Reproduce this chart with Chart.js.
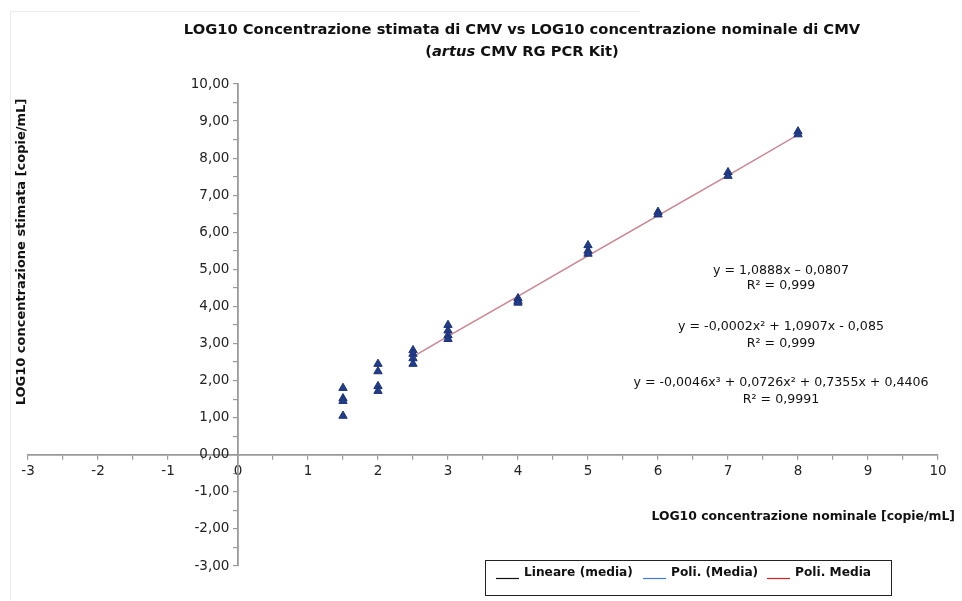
<!DOCTYPE html>
<html>
<head>
<meta charset="utf-8">
<script src="https://cdn.jsdelivr.net/npm/chart.js@4/dist/chart.umd.min.js"></script>
<style>
  html, body { margin: 0; padding: 0; background: #ffffff; }
  #wrap { position: relative; width: 962px; height: 601px; }
</style>
</head>
<body>
<div id="wrap"><canvas id="c" width="962" height="601"></canvas></div>
<script>
// ---- Data ----
const nominalX   = [1.5, 1.5, 1.5, 1.5, 2, 2, 2, 2, 2.5, 2.5, 2.5, 2.5, 3, 3, 3, 3, 4, 4, 4, 5, 5, 5, 6, 6, 7, 7, 8, 8];
const estimatedY = [1.80, 1.52, 1.45, 1.05, 2.45, 2.25, 1.85, 1.72, 2.82, 2.72, 2.60, 2.45, 3.50, 3.35, 3.22, 3.12, 4.22, 4.15, 4.10, 5.65, 5.50, 5.42, 6.55, 6.48, 7.62, 7.52, 8.72, 8.64];

const trendX     = [2.5, 3, 4, 5, 6, 7, 8];
const linearY    = [2.64, 3.19, 4.27, 5.36, 6.45, 7.54, 8.63];
const poly2Y     = [2.64, 3.19, 4.27, 5.37, 6.46, 7.54, 8.63];
const poly3Y     = [2.65, 3.20, 4.28, 5.37, 6.45, 7.53, 8.63];

const trendLabels = ['Lineare (media)', 'Poli. (Media)', 'Poli. Media'];
const legendColors = ['#111111', '#3b7fd9', '#e02020'];

const xTickMin = -3, xTickMax = 10;
const yTickMin = -3, yTickMax = 10;

const titleLine1 = 'LOG10 Concentrazione stimata di CMV vs LOG10 concentrazione nominale di CMV';
const titleLine2 = ['(', 'artus', ' CMV RG PCR Kit)'];
const xTitle = 'LOG10 concentrazione nominale [copie/mL]';
const yTitle = 'LOG10 concentrazione stimata [copie/mL]';
const equations = [
  'y = 1,0888x \u2013 0,0807', 'R\u00B2 = 0,999',
  'y = -0,0002x\u00B2 + 1,0907x - 0,085', 'R\u00B2 = 0,999',
  'y = -0,0046x\u00B3 + 0,0726x\u00B2 + 0,7355x + 0,4406', 'R\u00B2 = 0,9991'
];

// ---- Build ----
const FONT = '"DejaVu Sans", sans-serif';
const toPts = (xs, ys) => xs.map((x, i) => ({x: x, y: ys[i]}));

const lineStrokes = ['rgba(0,0,0,0.18)', 'rgba(40,100,220,0.18)', 'rgba(230,70,70,0.50)'];

const datasets = [
  { type: 'scatter', label: 'Dati', data: toPts(nominalX, estimatedY),
    pointStyle: 'triangle', pointRadius: 4.8, pointHoverRadius: 4.8,
    backgroundColor: '#213d8c', borderColor: '#1b3275', borderWidth: 1, order: 0 },
  { type: 'line', label: trendLabels[0], data: toPts(trendX, linearY),
    borderColor: lineStrokes[0], borderWidth: 1.3, pointRadius: 0, fill: false, order: 3, legendColor: legendColors[0] },
  { type: 'line', label: trendLabels[1], data: toPts(trendX, poly2Y),
    borderColor: lineStrokes[1], borderWidth: 1.3, pointRadius: 0, fill: false, order: 2, legendColor: legendColors[1] },
  { type: 'line', label: trendLabels[2], data: toPts(trendX, poly3Y),
    borderColor: lineStrokes[2], borderWidth: 1.3, pointRadius: 0, fill: false, order: 1, legendColor: legendColors[2] }
];

const decorPlugin = {
  id: 'decor',
  beforeDraw(chart) {
    const ctx = chart.ctx;
    ctx.save();
    ctx.strokeStyle = '#ececec';
    ctx.lineWidth = 1;
    ctx.beginPath();
    ctx.moveTo(10.5, 11); ctx.lineTo(10.5, 601);
    ctx.moveTo(10, 11.5); ctx.lineTo(640, 11.5);
    ctx.stroke();
    ctx.restore();
  },
  afterDraw(chart) {
    const ctx = chart.ctx;
    ctx.save();
    ctx.fillStyle = '#111';
    // Title
    ctx.textBaseline = 'middle';
    ctx.textAlign = 'center';
    ctx.font = 'bold 14.7px ' + FONT;
    ctx.fillText(titleLine1, 522, 30);
    const fonts2 = ['bold 14.7px ' + FONT, 'italic bold 14.7px ' + FONT, 'bold 14.7px ' + FONT];
    let total = 0;
    titleLine2.forEach((t, i) => { ctx.font = fonts2[i]; total += ctx.measureText(t).width; });
    let x = 522 - total / 2;
    ctx.textAlign = 'left';
    titleLine2.forEach((t, i) => { ctx.font = fonts2[i]; ctx.fillText(t, x, 52); x += ctx.measureText(t).width; });

    // Axis titles
    ctx.font = 'bold 12.4px ' + FONT;
    ctx.textAlign = 'right';
    ctx.fillText(xTitle, 955, 517);
    ctx.save();
    ctx.translate(22, 252);
    ctx.rotate(-Math.PI / 2);
    ctx.textAlign = 'center';
    ctx.font = 'bold 13px ' + FONT;
    ctx.fillText(yTitle, 0, 0);
    ctx.restore();

    // Equations
    ctx.font = '12.6px ' + FONT;
    ctx.textAlign = 'center';
    const eqY = [271, 286, 327, 344, 383, 400];
    equations.forEach((e, i) => ctx.fillText(e, 781, eqY[i]));

    // Legend box
    ctx.strokeStyle = '#222';
    ctx.lineWidth = 1;
    ctx.strokeRect(485.5, 560.5, 406, 35);
    const lx = [496, 643, 767];
    const lineDs = chart.data.datasets.filter(d => d.type === 'line');
    ctx.font = 'bold 12.2px ' + FONT;
    ctx.textAlign = 'left';
    lineDs.forEach((d, i) => {
      ctx.strokeStyle = d.legendColor;
      ctx.lineWidth = 1.2;
      ctx.beginPath();
      ctx.moveTo(lx[i], 578.5); ctx.lineTo(lx[i] + 23, 578.5);
      ctx.stroke();
      ctx.fillStyle = '#111';
      ctx.fillText(d.label, lx[i] + 28, 573);
    });
    ctx.restore();
  }
};

new Chart(document.getElementById('c'), {
  data: { datasets: datasets },
  options: {
    responsive: false,
    animation: false,
    events: [],
    layout: { padding: { left: 28, right: 24, top: 84, bottom: 35 } },
    plugins: { legend: { display: false }, title: { display: false }, tooltip: { enabled: false } },
    scales: {
      x: {
        type: 'linear',
        position: { y: 0 },
        min: xTickMin, max: xTickMax,
        ticks: {
          stepSize: 0.5, autoSkip: false, maxRotation: 0,
          callback: v => Number.isInteger(v) ? String(v) : '',
          font: { family: FONT, size: 13.5 }, color: '#222', padding: 5
        },
        grid: { drawOnChartArea: false, drawTicks: true, tickLength: 4, color: '#9a9a9a', lineWidth: 1.2 },
        border: { color: '#9a9a9a', width: 1.8 }
      },
      y: {
        type: 'linear',
        position: { x: 0 },
        min: yTickMin, max: yTickMax,
        ticks: {
          stepSize: 0.5, autoSkip: false,
          callback: v => Number.isInteger(v) ? v.toFixed(2).replace('.', ',') + '\u2007' : '',
          font: { family: FONT, size: 13.5 }, color: '#222', padding: 6
        },
        grid: { drawOnChartArea: false, drawTicks: true, tickLength: 4, color: '#9a9a9a', lineWidth: 1.2 },
        border: { color: '#9a9a9a', width: 1.8 }
      }
    }
  },
  plugins: [decorPlugin]
});
</script>
</body>
</html>
